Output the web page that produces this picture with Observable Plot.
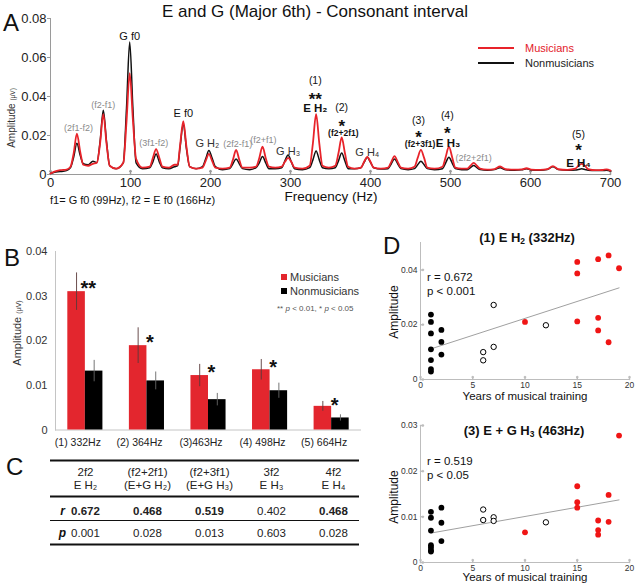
<!DOCTYPE html>
<html><head><meta charset="utf-8">
<script src="https://cdn.jsdelivr.net/npm/d3@7"></script>
<script src="https://cdn.jsdelivr.net/npm/@observablehq/plot@0.6"></script>
<style>
html,body{margin:0;padding:0;background:#fff;}
#wrap{position:relative;width:640px;height:585px;overflow:hidden;font-family:"Liberation Sans",Arial,Helvetica,sans-serif;}
#wrap svg{overflow:visible;}
sub{font-size:65%;vertical-align:-0.25em;line-height:0;}
</style></head><body><div id="wrap"></div>
<script>
// ---------- Panel A: spectrum ----------
const specFreq = [0,5,12,20,25,29,33,37,41,47,53,58,62,66,70,74,82,91,95,99,103,107,115,124,128,132,136,140,148,155,159,162,166,170,174,182,190,194,198,202,206,215,224,228,232,236,240,249,257,261,265,269,273,281,289,293,297,301,305,315,324,328,332,336,340,348,356,360,364,368,372,380,388,392,396,400,404,413,422,426,430,434,438,447,455,459,463,467,471,480,490,494,498,502,506,514,521,525,529,533,537,546,555,562,569,580,589,595,601,612,621,628,635,646,656,660,664,668,672,682,690,695,700];
const specMusicians = [.0005,.0015,.0022,.0025,.0040,.0110,.0210,.0120,.0050,.0045,.0055,.0060,.0160,.0310,.0160,.0045,.0030,.0060,.0270,.0520,.0280,.0080,.0035,.0040,.0085,.0130,.0085,.0040,.0035,.0050,.0050,.0150,.0273,.0140,.0040,.0030,.0035,.0070,.0106,.0070,.0035,.0030,.0035,.0075,.0126,.0075,.0035,.0035,.0040,.0085,.0143,.0085,.0040,.0035,.0040,.0065,.0085,.0065,.0035,.0030,.0045,.0160,.0310,.0160,.0045,.0035,.0045,.0110,.0190,.0110,.0040,.0030,.0035,.0065,.0090,.0065,.0035,.0030,.0035,.0065,.0094,.0065,.0035,.0030,.0040,.0085,.0126,.0085,.0035,.0030,.0040,.0090,.0143,.0090,.0035,.0030,.0030,.0045,.0060,.0045,.0030,.0025,.0028,.0041,.0027,.0025,.0026,.0032,.0025,.0024,.0027,.0043,.0027,.0024,.0030,.0045,.0055,.0045,.0028,.0022,.0023,.0026,.0020];
const specNonmusicians = [.0005,.0012,.0015,.0020,.0035,.0090,.0160,.0100,.0055,.0050,.0068,.0062,.0170,.0330,.0170,.0045,.0030,.0060,.0340,.0680,.0340,.0060,.0030,.0035,.0065,.0105,.0065,.0035,.0030,.0040,.0045,.0140,.0260,.0130,.0040,.0030,.0040,.0080,.0123,.0085,.0040,.0025,.0030,.0055,.0080,.0055,.0030,.0025,.0035,.0060,.0092,.0060,.0030,.0030,.0035,.0070,.0100,.0065,.0030,.0025,.0035,.0075,.0120,.0075,.0035,.0030,.0035,.0070,.0110,.0070,.0030,.0030,.0035,.0062,.0088,.0062,.0035,.0028,.0030,.0055,.0080,.0055,.0030,.0025,.0030,.0050,.0068,.0050,.0030,.0025,.0030,.0060,.0088,.0060,.0030,.0025,.0025,.0035,.0046,.0035,.0025,.0022,.0025,.0035,.0024,.0022,.0024,.0030,.0023,.0022,.0026,.0040,.0025,.0022,.0023,.0026,.0029,.0026,.0022,.0020,.0020,.0022,.0018];
const aXTicks = [0,100,200,300,400,500,600,700];
const aYTicks = [0,0.02,0.04,0.06,0.08];
const annoText = ["(2f1-f2)","(f2-f1)","G f0","(3f1-f2)","E f0","G H₂","(2f2-f1)","(f2+f1)","G H₃","(1)","**","E H₂","(2)","*","(f2+2f1)","G H₄","(3)","*","(f2+3f1)","(4)","*","E H₃","(2f2+2f1)","(5)","*","E H₄"];
const annoFreq = [35,66,99,129,166,196,234,266,297,331,331,331,364,364,366,396,460,460,462,496,496,497,529,660,660,660];
const annoAmp = [0.024,0.0358,0.0706,0.0159,0.0312,0.0159,0.0154,0.0174,0.0118,0.0483,0.041,0.0341,0.0345,0.0268,0.0212,0.0113,0.0278,0.0212,0.0156,0.0304,0.0232,0.0162,0.0082,0.0202,0.0145,0.0059];
const annoKind = ["minor","minor","main","minor","main","peak","minor","minor","peak","num","star","bold","num","star","combo","peak","num","star","combo","num","star","bold","minor","num","star","bold"];

// ---------- Panel B: bars ----------
const bCats = ["(1) 332Hz","(2) 364Hz","(3)463Hz","(4) 498Hz","(5) 664Hz"];
const musMean = [0.031,0.0189,0.0122,0.0135,0.0053];
const musErr = [0.0042,0.004,0.0025,0.0023,0.0011];
const nonMean = [0.0132,0.011,0.0068,0.0088,0.0027];
const nonErr = [0.0024,0.002,0.0014,0.0017,0.0007];
const sigLabel = ["**","*","*","*","*"];
const sigAmp = [0.0328,0.0207,0.0140,0.0152,0.0066];
const bYTicks = [0,0.01,0.02,0.03,0.04];

// ---------- Panel C: table ----------
const head1 = ["2f2","(f2+2f1)","(f2+3f1)","3f2","4f2"];
const head2 = ["E H₂","(E+G H₂)","(E+G H₃)","E H₃","E H₄"];
const rVals = [0.672,0.468,0.519,0.402,0.468];
const pVals = [0.001,0.028,0.013,0.603,0.028];

// ---------- Panel D: scatter ----------
const years = [1,1,1,1,1,1,1,2,2,2,6,6,7,7,12,10,15,15,15,17,17,17,18,18,19];
const subjGroup = ["N","N","N","N","N","N","N","N","N","N","O","O","O","O","O","M","M","M","M","M","M","M","M","M","M"];
const ampEH2 = [0.0237,0.021,0.0168,0.011,0.0071,0.0038,0.0029,0.0181,0.0137,0.0091,0.010,0.007,0.0272,0.0119,0.0198,0.021,0.0429,0.0387,0.0212,0.0439,0.0225,0.0179,0.0453,0.0136,0.0406];
const ampEGH3 = [0.0111,0.0098,0.007,0.0038,0.0033,0.0027,0.0024,0.012,0.0087,0.0047,0.0116,0.0093,0.0099,0.0091,0.0088,0.0066,0.0167,0.0132,0.012,0.0092,0.0071,0.0061,0.0148,0.0089,0.0278];
const dXTicks = [0,5,10,15,20];

// ---------- helpers ----------
const FONT = '"Liberation Sans", Arial, Helvetica, sans-serif';
const W = document.getElementById("wrap");
const RED = "#e8232a";
function place(node, left, top){ node.style.position="absolute"; node.style.left=left+"px"; node.style.top=top+"px"; W.appendChild(node); }
function label(html, x, y, o={}) {
  const d = document.createElement("div");
  d.innerHTML = html;
  const a = o.anchor || "middle";
  const tx = a==="start" ? "0" : a==="end" ? "-100%" : "-50%";
  d.style.cssText = `position:absolute;left:${x}px;top:${y}px;white-space:nowrap;line-height:1;font-family:${FONT};font-size:${o.size||12}px;color:${o.color||"#111"};font-weight:${o.weight||"normal"};font-style:${o.style||"normal"};transform:translate(${tx},-50%)${o.rotate?` rotate(${o.rotate}deg)`:""};`;
  W.appendChild(d);
}
const style = {fontFamily: FONT, background: "transparent", color: "#222"};
const fmt2 = d => d === 0 ? "0" : d3.format(".2f")(d);

// ---------- Panel A ----------
const spec = specFreq.map((f,i) => ({f, m: specMusicians[i], n: specNonmusicians[i]}));
const anno = annoText.map((t,i) => ({t, f: annoFreq[i], v: annoAmp[i], k: annoKind[i]}));
const kindSize = {minor: 9, main: 11, peak: 11, num: 10.5, star: 17, bold: 11.5, combo: 8.5};
const kindFill = {minor: "#8a8a8a", main: "#111", peak: "#333", num: "#111", star: "#111", bold: "#111", combo: "#111"};
const kindWeight = {minor: "normal", main: "normal", peak: "normal", num: "normal", star: "bold", bold: "bold", combo: "bold"};
const plotA = Plot.plot({
  width: 640, height: 210, marginLeft: 50, marginRight: 30, marginTop: 18, marginBottom: 36,
  style,
  x: {domain: [0,700]},
  y: {domain: [0,0.08]},
  marks: [
    Plot.frame({anchor: "left", stroke: "#9a9a9a"}),
    Plot.frame({anchor: "bottom", stroke: "#9a9a9a"}),
    Plot.vector(aXTicks, {x: d => d, frameAnchor: "bottom", length: 4, anchor: "start", stroke: "#9a9a9a"}),
    Plot.axisY({ticks: aYTicks, tickFormat: fmt2, tickSize: 3, tickPadding: 1, fontSize: 13, stroke: "#9a9a9a", fill: "#222", label: null}),
    Plot.axisX({ticks: aXTicks, tickSize: 0, tickPadding: 3, fontSize: 13, fill: "#222", label: null}),
    Plot.line(spec, {x: "f", y: "n", stroke: "#111", strokeWidth: 1.5, curve: "monotone-x"}),
    Plot.line(spec, {x: "f", y: "m", stroke: RED, strokeWidth: 1.8, curve: "monotone-x"}),
    ...Object.keys(kindSize).map(k => Plot.text(anno.filter(d => d.k === k), {
      x: "f", y: "v", text: "t", fontSize: kindSize[k], fill: kindFill[k], fontWeight: kindWeight[k],
      dy: k === "star" ? 4.5 : 0
    }))
  ]
});
place(plotA, 0, 0);
label("E and G (Major 6th) - Consonant interval", 315, 11, {size: 17});
label("A", 3, 23, {size: 24, anchor: "start"});
label("Amplitude <span style='font-size:6.5px'>(μV)</span>", 12, 118, {size: 10, rotate: -90, color: "#333"});
label("Frequency (Hz)", 331, 197, {size: 13.5});
label("f1= G f0 (99Hz), f2 = E f0 (166Hz)", 50, 200, {size: 11, anchor: "start"});
// legend A
const legA = [["Musicians", RED, 48], ["Nonmusicians", "#111", 62.5]];
legA.forEach(([t, c, y]) => {
  const ln = document.createElement("div");
  ln.style.cssText = `position:absolute;left:478px;top:${y-1}px;width:36px;height:2px;background:${c};`;
  W.appendChild(ln);
  label(t, 525, y, {size: 11, anchor: "start", color: c === RED ? "#e3202a" : "#222"});
});

// ---------- Panel B ----------
const bRows = bCats.map((c,i) => ({c, mus: musMean[i], musE: musErr[i], non: nonMean[i], nonE: nonErr[i], sig: sigLabel[i], sigY: sigAmp[i]}));
const plotB = Plot.plot({
  width: 380, height: 216, marginLeft: 55, marginRight: 19, marginTop: 11, marginBottom: 26.5,
  style,
  x: {type: "band", domain: bCats, paddingInner: 0.43, paddingOuter: 0.2, round: false},
  y: {domain: [0,0.04]},
  marks: [
    Plot.frame({anchor: "left", stroke: "#c4c4c4"}),
    Plot.ruleY([0], {stroke: "#c4c4c4"}),
    Plot.barY(bRows, {x: "c", y: "mus", fill: "#e3262e", insetRight: 17.55}),
    Plot.barY(bRows, {x: "c", y: "non", fill: "#000", insetLeft: 17.55}),
    Plot.ruleX(bRows, {x: "c", y1: d => d.mus - d.musE, y2: d => d.mus + d.musE, dx: -8.8, stroke: "#5a3a3a", strokeWidth: 0.9}),
    Plot.ruleX(bRows, {x: "c", y1: d => d.non - d.nonE, y2: d => d.non + d.nonE, dx: 8.8, stroke: "#666", strokeWidth: 0.9}),
    Plot.text(bRows, {x: "c", y: "sigY", text: "sig", dx: 3, dy: 5, fontSize: 20, fontWeight: "bold", fill: "#111"}),
    Plot.axisY({ticks: bYTicks, tickFormat: fmt2, tickSize: 0, tickPadding: 8, fontSize: 11, fill: "#333", label: null}),
    Plot.axisX({tickSize: 0, tickPadding: 9, dx: -7.5, fontSize: 10.5, fill: "#222", label: null})
  ]
});
place(plotB, 0, 240);
label("B", 4, 258, {size: 24, anchor: "start"});
label("Amplitude <span style='font-size:7px'>(μV)</span>", 17, 333, {size: 11, rotate: -90, color: "#333"});
const legB = [["Musicians", "#e3262e", 277.3], ["Nonmusicians", "#000", 291]];
legB.forEach(([t, c, y]) => {
  const sq = document.createElement("div");
  sq.style.cssText = `position:absolute;left:281px;top:${y-3.2}px;width:6.4px;height:6.4px;background:${c};`;
  W.appendChild(sq);
  label(t, 290, y, {size: 11, anchor: "start", color: "#333"});
});
label("** <i>p</i> &lt; 0.01, * <i>p</i> &lt; 0.05", 277, 309, {size: 8, anchor: "start", color: "#555"});

// ---------- Panel C ----------
const cells = [];
bCats.forEach((c,i) => {
  cells.push({c, row: "h1", t: head1[i], bold: false});
  cells.push({c, row: "h2", t: head2[i], bold: false});
  cells.push({c, row: "r", t: d3.format(".3f")(rVals[i]), bold: pVals[i] < 0.05});
  cells.push({c, row: "p", t: d3.format(".3f")(pVals[i]), bold: false});
});
const rowLabels = [{c: bCats[0], row: "r", t: "r"}, {c: bCats[0], row: "p", t: "p"}];
const rowDy = {h1: 0, h2: 1, r: 2.5, p: 0.5};
const plotC = Plot.plot({
  width: 380, height: 105, marginLeft: 50, marginRight: 21, marginTop: 6.7, marginBottom: 7.7,
  style,
  x: {type: "point", domain: bCats, padding: 0, insetLeft: 35, insetRight: 26, axis: null},
  y: {type: "point", domain: ["top","h1","h2","mid","r","sep","p","bottom"], padding: 0, axis: null},
  marks: [
    Plot.ruleY(["top","mid","bottom"], {stroke: "#111", strokeWidth: 2}),
    Plot.ruleY(["sep"], {stroke: "#111", strokeWidth: 1}),
    ...Object.keys(rowDy).flatMap(row => [false, true].map(b =>
      Plot.text(cells.filter(d => d.row === row && d.bold === b), {x: "c", y: "row", text: "t", fontWeight: b ? "bold" : "normal", fontSize: 11.5, fill: "#222", dy: rowDy[row]}))),
    ...["r","p"].map(row => Plot.text(rowLabels.filter(d => d.row === row), {x: "c", y: "row", text: "t", dx: -23, dy: rowDy[row], fontSize: 12, fontWeight: "bold", fontStyle: "italic", fill: "#111"}))
  ]
});
place(plotC, 0, 450);
label("C", 6, 467, {size: 24, anchor: "start"});

// ---------- Panel D ----------
const subj = years.map((y,i) => ({yr: y, g: subjGroup[i], a1: ampEH2[i], a3: ampEGH3[i]}));
function scatter(field, yTicks, yMax, height, mTop, mBottom) {
  return Plot.plot({
    width: 260, height, marginLeft: 40, marginRight: 11, marginTop: mTop, marginBottom: mBottom,
    style,
    x: {domain: [0,20]},
    y: {domain: [0,yMax]},
    marks: [
      Plot.frame({anchor: "left", stroke: "#bdbdbd"}),
      Plot.frame({anchor: "bottom", stroke: "#bdbdbd"}),
      Plot.vector(dXTicks, {x: d => d, frameAnchor: "bottom", length: 3, anchor: "start", stroke: "#bdbdbd"}),
      Plot.vector(yTicks, {y: d => d, frameAnchor: "left", rotate: 90, length: 3, anchor: "start", stroke: "#bdbdbd"}),
      Plot.axisY({ticks: yTicks, tickFormat: fmt2, tickSize: 0, tickPadding: 3, fontSize: 8.5, fill: "#333", label: null}),
      Plot.axisX({ticks: dXTicks, tickSize: 0, tickPadding: 2, fontSize: 8.5, fill: "#333", label: null}),
      Plot.linearRegressionY(subj, {x: "yr", y: field, ci: 0, stroke: "#a0a0a0", strokeWidth: 1}),
      Plot.dot(subj.filter(d => d.g === "N"), {x: "yr", y: field, r: 2.9, fill: "#000"}),
      Plot.dot(subj.filter(d => d.g === "O"), {x: "yr", y: field, r: 2.7, fill: "#fff", stroke: "#000", strokeWidth: 1}),
      Plot.dot(subj.filter(d => d.g === "M"), {x: "yr", y: field, r: 2.9, fill: "#f01515"})
    ]
  });
}
place(scatter("a1", [0,0.02,0.04], 0.05, 175, 17, 21), 380, 225);
place(scatter("a3", [0,0.01,0.02,0.03], 0.03, 165, 10, 18), 380, 415);
label("D", 383, 246, {size: 24, anchor: "start"});
label("(1) E H<sub>2</sub> (332Hz)", 527, 237, {size: 13, weight: "bold"});
label("(3) E + G H<sub>3</sub> (463Hz)", 524, 430, {size: 13, weight: "bold"});
label("r = 0.672", 427, 278, {size: 11.5, anchor: "start"});
label("p &lt; 0.001", 427, 291.5, {size: 11.5, anchor: "start"});
label("r = 0.519", 427, 462, {size: 11.5, anchor: "start"});
label("p &lt; 0.05", 427, 475.5, {size: 11.5, anchor: "start"});
label("Amplitude", 394, 312, {size: 12, rotate: -90});
label("Amplitude", 394, 497, {size: 12, rotate: -90});
label("Years of musical training", 525, 397, {size: 11.5});
label("Years of musical training", 525, 578, {size: 11.5});
</script>
</body></html>
